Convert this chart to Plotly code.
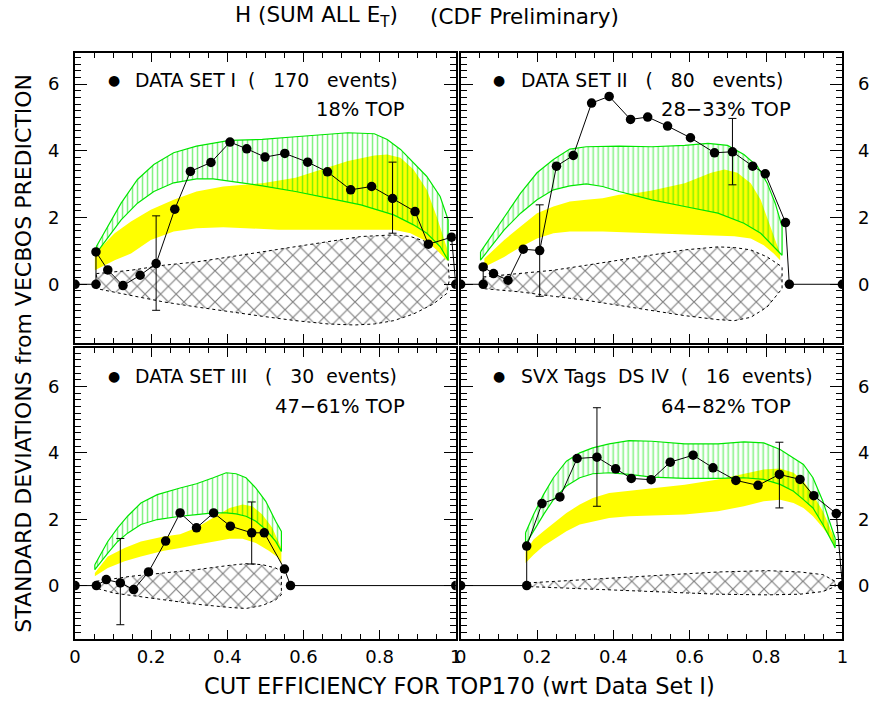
import plotly.graph_objects as go

W, H = 875, 702

# ---------------- DATA ----------------
# Panel I : DATA SET I (170 events)
ds1_x = [0.0, 0.055, 0.055, 0.086, 0.126, 0.171, 0.213, 0.262, 0.303, 0.357, 0.407, 0.451,
         0.499, 0.551, 0.611, 0.663, 0.724, 0.779, 0.834, 0.893, 0.928, 0.989, 1.0]
ds1_y = [0.0, 0.0, 0.97, 0.43, -0.04, 0.27, 0.62, 2.25, 3.38, 3.65, 4.26, 4.06,
         3.81, 3.92, 3.66, 3.37, 2.83, 2.93, 2.57, 2.18, 1.20, 1.41, 0.0]
ds1_err_x = [0.213, 0.834]
ds1_err_c = [0.62, 2.57]
ds1_err_hi = [2.05, 3.66]
ds1_err_lo = [-0.78, 1.53]
ds1_green_up_x = [0.056, 0.086, 0.121, 0.164, 0.207, 0.259, 0.319, 0.406, 0.492, 0.579, 0.665,
                  0.717, 0.786, 0.820, 0.855, 0.889, 0.924, 0.959, 0.980]
ds1_green_up_y = [1.13, 1.73, 2.43, 3.14, 3.59, 3.94, 4.14, 4.31, 4.34, 4.42, 4.49,
                  4.54, 4.51, 4.34, 4.04, 3.64, 3.23, 2.63, 1.93]
ds1_green_lo_x = [0.056, 0.086, 0.121, 0.164, 0.207, 0.259, 0.319, 0.363, 0.406, 0.492, 0.579,
                  0.665, 0.751, 0.837, 0.889, 0.924, 0.959, 0.980]
ds1_green_lo_y = [0.93, 1.38, 1.93, 2.43, 2.78, 3.04, 3.16, 3.16, 3.08, 2.95, 2.78,
                  2.58, 2.38, 2.08, 1.78, 1.53, 1.13, 0.72]
ds1_yel_up_x = [0.052, 0.104, 0.147, 0.199, 0.259, 0.319, 0.389, 0.449, 0.492, 0.579, 0.665,
                0.717, 0.786, 0.820, 0.855, 0.889, 0.924, 0.950, 0.976, 0.983]
ds1_yel_up_y = [0.92, 1.53, 1.88, 2.23, 2.53, 2.78, 2.93, 2.98, 3.03, 3.19, 3.49,
                3.69, 3.86, 3.89, 3.79, 3.44, 2.83, 2.03, 1.12, 0.72]
ds1_yel_lo_x = [0.052, 0.104, 0.147, 0.199, 0.259, 0.319, 0.389, 0.449, 0.535, 0.622, 0.708,
                0.794, 0.837, 0.881, 0.924, 0.950, 0.976]
ds1_yel_lo_y = [0.42, 0.72, 0.92, 1.33, 1.58, 1.68, 1.71, 1.68, 1.63, 1.61, 1.61,
                1.63, 1.63, 1.53, 1.28, 1.03, 0.72]
ds1_hat_up_x = [0.056, 0.147, 0.233, 0.319, 0.406, 0.492, 0.579, 0.665, 0.751, 0.837, 0.881,
                0.924, 0.959, 0.980]
ds1_hat_up_y = [0.32, 0.42, 0.57, 0.67, 0.82, 0.97, 1.12, 1.27, 1.43, 1.48, 1.43,
                1.27, 1.03, 0.72]
ds1_hat_lo_x = [0.056, 0.147, 0.233, 0.319, 0.406, 0.492, 0.579, 0.665, 0.734, 0.786, 0.837,
                0.889, 0.941, 0.976, 0.983]
ds1_hat_lo_y = [-0.13, -0.33, -0.53, -0.68, -0.83, -0.96, -1.09, -1.19, -1.22, -1.19, -1.09,
                -0.89, -0.59, -0.28, 0.12]

# Panel II : DATA SET II (80 events)
ds2_x = [0.0, 0.059, 0.059, 0.086, 0.124, 0.164, 0.207, 0.251, 0.295, 0.343, 0.389, 0.445,
         0.490, 0.542, 0.602, 0.665, 0.712, 0.765, 0.798, 0.851, 0.861, 1.0]
ds2_y = [0.0, 0.0, 0.52, 0.32, 0.12, 1.05, 1.01, 3.54, 3.86, 5.43, 5.63, 4.94,
         5.01, 4.74, 4.39, 3.94, 3.97, 3.54, 3.31, 1.85, 0.0, 0.0]
ds2_err_x = [0.207, 0.712]
ds2_err_c = [1.01, 3.97]
ds2_err_hi = [2.38, 4.97]
ds2_err_lo = [-0.36, 2.98]
ds2_green_up_x = [0.052, 0.079, 0.114, 0.157, 0.200, 0.243, 0.286, 0.329, 0.415, 0.501, 0.587,
                  0.648, 0.699, 0.742, 0.777, 0.803, 0.824, 0.842]
ds2_green_up_y = [0.97, 1.42, 2.03, 2.73, 3.34, 3.74, 4.05, 4.12, 4.14, 4.12, 4.16,
                  4.22, 4.16, 3.89, 3.54, 3.03, 2.43, 1.73]
ds2_green_lo_x = [0.052, 0.079, 0.114, 0.157, 0.200, 0.243, 0.286, 0.329, 0.372, 0.415, 0.501,
                  0.587, 0.674, 0.742, 0.786, 0.811, 0.842]
ds2_green_lo_y = [0.72, 1.12, 1.63, 2.13, 2.53, 2.83, 2.95, 3.01, 2.93, 2.78, 2.53,
                  2.33, 2.13, 1.83, 1.53, 1.22, 0.87]
ds2_yel_up_x = [0.062, 0.114, 0.157, 0.200, 0.243, 0.286, 0.329, 0.372, 0.415, 0.458, 0.501,
                0.587, 0.656, 0.691, 0.725, 0.760, 0.786, 0.811, 0.837]
ds2_yel_up_y = [0.77, 1.33, 1.73, 2.13, 2.33, 2.48, 2.53, 2.58, 2.68, 2.73, 2.81,
                3.03, 3.34, 3.44, 3.34, 3.03, 2.53, 1.73, 0.92]
ds2_yel_lo_x = [0.062, 0.114, 0.157, 0.200, 0.243, 0.286, 0.372, 0.458, 0.544, 0.630, 0.717,
                0.760, 0.794, 0.820, 0.837]
ds2_yel_lo_y = [0.52, 0.82, 1.12, 1.37, 1.53, 1.58, 1.58, 1.53, 1.50, 1.47, 1.44,
                1.37, 1.17, 0.92, 0.72]
ds2_hat_x = [0.059, 0.157, 0.243, 0.329, 0.415, 0.501, 0.587, 0.674, 0.717, 0.760, 0.803, 0.842]
ds2_hat_up_y = [0.22, 0.32, 0.42, 0.57, 0.72, 0.87, 1.03, 1.12, 1.10, 1.03, 0.82, 0.52]
ds2_hat_lo_y = [-0.13, -0.23, -0.36, -0.48, -0.63, -0.79, -0.94, -1.06, -1.09, -0.99, -0.68, -0.13]

# Panel III : DATA SET III (30 events)
ds3_x = [0.0, 0.056, 0.082, 0.119, 0.154, 0.193, 0.238, 0.276, 0.319, 0.364, 0.408, 0.464,
         0.497, 0.550, 0.566, 1.0]
ds3_y = [0.0, 0.0, 0.18, 0.08, -0.12, 0.41, 1.34, 2.19, 1.74, 2.19, 1.79, 1.59,
         1.59, 0.50, 0.0, 0.0]
ds3_err_x = [0.119, 0.464]
ds3_err_c = [0.08, 1.59]
ds3_err_hi = [1.42, 2.52]
ds3_err_lo = [-1.18, 0.65]
ds3_green_x = [0.052, 0.069, 0.086, 0.112, 0.138, 0.173, 0.216, 0.276, 0.319, 0.363, 0.397,
               0.423, 0.449, 0.475, 0.501, 0.527, 0.542]
ds3_green_up_y = [0.63, 0.98, 1.33, 1.74, 2.09, 2.49, 2.74, 2.94, 3.07, 3.25, 3.40,
                  3.37, 3.25, 2.94, 2.54, 1.94, 1.63]
ds3_green_lo_y = [0.48, 0.73, 0.98, 1.33, 1.58, 1.84, 1.99, 2.09, 2.14, 2.19, 2.19,
                  2.16, 2.09, 1.94, 1.69, 1.33, 1.03]
ds3_yel_up_x = [0.052, 0.086, 0.130, 0.173, 0.233, 0.276, 0.319, 0.363, 0.406, 0.440, 0.466,
                0.492, 0.518, 0.542]
ds3_yel_up_y = [0.38, 0.88, 1.13, 1.33, 1.48, 1.55, 1.74, 2.04, 2.34, 2.44, 2.39,
                2.14, 1.74, 1.13]
ds3_yel_lo_x = [0.052, 0.086, 0.130, 0.173, 0.233, 0.276, 0.319, 0.363, 0.406, 0.440, 0.475,
                0.509, 0.535, 0.542]
ds3_yel_lo_y = [0.28, 0.53, 0.73, 0.88, 1.05, 1.13, 1.23, 1.33, 1.41, 1.41, 1.28,
                1.05, 0.83, 0.63]
ds3_hat_up_x = [0.056, 0.147, 0.233, 0.319, 0.406, 0.449, 0.492, 0.527, 0.542]
ds3_hat_up_y = [0.13, 0.28, 0.38, 0.48, 0.61, 0.66, 0.63, 0.53, 0.43]
ds3_hat_lo_x = [0.056, 0.104, 0.147, 0.233, 0.319, 0.406, 0.449, 0.492, 0.527, 0.542]
ds3_hat_lo_y = [-0.08, -0.23, -0.30, -0.43, -0.56, -0.66, -0.69, -0.60, -0.43, -0.28]

# Panel IV : SVX Tags DS IV (16 events)
ds4_x = [0.0, 0.173, 0.173, 0.213, 0.260, 0.305, 0.357, 0.406, 0.447, 0.499, 0.549, 0.609,
         0.661, 0.721, 0.779, 0.835, 0.889, 0.925, 0.984, 1.0]
ds4_y = [0.0, 0.0, 1.19, 2.47, 2.67, 3.83, 3.87, 3.52, 3.23, 3.19, 3.72, 3.93,
         3.55, 3.17, 3.02, 3.35, 3.20, 2.71, 2.17, 0.0]
ds4_err_x = [0.357, 0.835]
ds4_err_c = [3.87, 3.35]
ds4_err_hi = [5.36, 4.32]
ds4_err_lo = [2.39, 2.34]
ds4_band_x = [0.170, 0.191, 0.217, 0.243, 0.277, 0.312, 0.346, 0.389, 0.441, 0.501, 0.587,
              0.674, 0.742, 0.794, 0.837, 0.872, 0.898, 0.923, 0.949, 0.975, 0.981]
ds4_green_up_y = [1.59, 2.14, 2.74, 3.25, 3.75, 4.00, 4.15, 4.27, 4.37, 4.35, 4.27,
                  4.27, 4.33, 4.30, 4.10, 3.85, 3.65, 3.25, 2.54, 1.63, 1.43]
ds4_green_lo_y = [1.24, 1.63, 2.14, 2.59, 3.00, 3.25, 3.37, 3.40, 3.35, 3.27, 3.23,
                  3.23, 3.25, 3.20, 3.05, 2.84, 2.59, 2.34, 1.84, 1.28, 1.13]
ds4_yel_up_y = [1.03, 1.39, 1.64, 1.89, 2.19, 2.44, 2.64, 2.79, 2.86, 2.92, 3.04,
                3.20, 3.37, 3.50, 3.53, 3.40, 3.15, 2.74, 2.24, 1.54, 1.28]
ds4_yel_lo_y = [0.68, 0.93, 1.19, 1.39, 1.64, 1.84, 1.94, 2.04, 2.09, 2.11, 2.14,
                2.24, 2.39, 2.54, 2.59, 2.49, 2.34, 2.09, 1.74, 1.33, 1.13]
ds4_hat_x = [0.176, 0.329, 0.501, 0.674, 0.803, 0.889, 0.949, 0.981]
ds4_hat_up_y = [0.08, 0.18, 0.28, 0.41, 0.45, 0.41, 0.33, 0.13]
ds4_hat_lo_y = [-0.03, -0.10, -0.18, -0.26, -0.28, -0.26, -0.18, -0.03]

panel_labels = ["DATA SET I\u00a0\u00a0(\u00a0\u00a0\u00a0170\u00a0\u00a0\u00a0events)",
                "DATA SET II\u00a0\u00a0\u00a0(\u00a0\u00a0\u00a080\u00a0\u00a0\u00a0events)",
                "DATA SET III\u00a0\u00a0\u00a0(\u00a0\u00a0\u00a030\u00a0\u00a0events)",
                "SVX Tags\u00a0\u00a0DS IV\u00a0\u00a0(\u00a0\u00a0\u00a016\u00a0\u00a0events)"]
panel_tops = ["18% TOP", "28\u221233% TOP", "47\u221261% TOP", "64\u221282% TOP"]

# ---------------- STYLE ----------------
FONT = "DejaVu Sans, Liberation Sans, sans-serif"
GREEN = "rgb(0,230,0)"
YELLOW = "#ffff00"

# pixel geometry of panels
px_cols = [(70, 456), (461, 848)]
py_rows = [(53, 343), (348, 639)]
yr_rows = [[-1.76, 6.93], [-1.61, 7.16]]


def band(xu, yu, xl, yl):
    return list(xu) + list(xl)[::-1] + [xu[0]], list(yu) + list(yl)[::-1] + [yu[0]]


panels = [
    dict(x=ds1_x, y=ds1_y, ex=ds1_err_x, ec=ds1_err_c, eh=ds1_err_hi, el=ds1_err_lo,
         g=band(ds1_green_up_x, ds1_green_up_y, ds1_green_lo_x, ds1_green_lo_y),
         yl=band(ds1_yel_up_x, ds1_yel_up_y, ds1_yel_lo_x, ds1_yel_lo_y),
         h=band(ds1_hat_up_x, ds1_hat_up_y, ds1_hat_lo_x, ds1_hat_lo_y)),
    dict(x=ds2_x, y=ds2_y, ex=ds2_err_x, ec=ds2_err_c, eh=ds2_err_hi, el=ds2_err_lo,
         g=band(ds2_green_up_x, ds2_green_up_y, ds2_green_lo_x, ds2_green_lo_y),
         yl=band(ds2_yel_up_x, ds2_yel_up_y, ds2_yel_lo_x, ds2_yel_lo_y),
         h=band(ds2_hat_x, ds2_hat_up_y, ds2_hat_x, ds2_hat_lo_y)),
    dict(x=ds3_x, y=ds3_y, ex=ds3_err_x, ec=ds3_err_c, eh=ds3_err_hi, el=ds3_err_lo,
         g=band(ds3_green_x, ds3_green_up_y, ds3_green_x, ds3_green_lo_y),
         yl=band(ds3_yel_up_x, ds3_yel_up_y, ds3_yel_lo_x, ds3_yel_lo_y),
         h=band(ds3_hat_up_x, ds3_hat_up_y, ds3_hat_lo_x, ds3_hat_lo_y)),
    dict(x=ds4_x, y=ds4_y, ex=ds4_err_x, ec=ds4_err_c, eh=ds4_err_hi, el=ds4_err_lo,
         g=band(ds4_band_x, ds4_green_up_y, ds4_band_x, ds4_green_lo_y),
         yl=band(ds4_band_x, ds4_yel_up_y, ds4_band_x, ds4_yel_lo_y),
         h=band(ds4_hat_x, ds4_hat_up_y, ds4_hat_x, ds4_hat_lo_y)),
]

fig = go.Figure()
layout = dict(width=W, height=H, margin=dict(l=0, r=0, t=0, b=0),
              paper_bgcolor="white", plot_bgcolor="white", showlegend=False,
              font=dict(family=FONT, color="black", size=18))
annotations = []

for i, p in enumerate(panels):
    row, col = divmod(i, 2)
    n = "" if i == 0 else str(i + 1)
    xa, ya = "x" + n, "y" + n
    (x0, x1), (y0, y1) = px_cols[col], py_rows[row]
    # hatched band
    fig.add_trace(go.Scatter(x=p["h"][0], y=p["h"][1], xaxis=xa, yaxis=ya, mode="lines",
                             fill="toself", fillcolor="rgba(0,0,0,0)",
                             fillpattern=dict(shape="x", fgcolor="black", bgcolor="rgba(0,0,0,0)",
                                              size=11, solidity=0.2),
                             line=dict(color="black", width=1, dash="dot"), hoverinfo="skip"))
    # yellow band
    fig.add_trace(go.Scatter(x=p["yl"][0], y=p["yl"][1], xaxis=xa, yaxis=ya, mode="lines",
                             fill="toself", fillcolor=YELLOW, line=dict(width=0, color=YELLOW),
                             hoverinfo="skip"))
    # green band
    fig.add_trace(go.Scatter(x=p["g"][0], y=p["g"][1], xaxis=xa, yaxis=ya, mode="lines",
                             fill="toself", fillcolor="rgba(0,0,0,0)",
                             fillpattern=dict(shape="|", fgcolor=GREEN, bgcolor="rgba(0,0,0,0)",
                                              size=5, solidity=0.3),
                             line=dict(color=GREEN, width=1.2), hoverinfo="skip"))
    # data
    fig.add_trace(go.Scatter(x=p["x"], y=p["y"], xaxis=xa, yaxis=ya, mode="lines+markers",
                             line=dict(color="black", width=1),
                             marker=dict(color="black", size=9.5)))
    fig.add_trace(go.Scatter(x=p["ex"], y=p["ec"], xaxis=xa, yaxis=ya, mode="markers",
                             marker=dict(size=1, color="rgba(0,0,0,0)"),
                             error_y=dict(type="data", symmetric=False,
                                          array=[h - c for h, c in zip(p["eh"], p["ec"])],
                                          arrayminus=[c - l for l, c in zip(p["el"], p["ec"])],
                                          color="black", thickness=1, width=4)))
    # axes
    layout["xaxis" + n] = dict(domain=[x0 / W, x1 / W], range=[0, 1], anchor=ya,
                               showline=True, linecolor="black", linewidth=2, mirror="allticks",
                               ticks="inside", ticklen=9, tickwidth=1, tickcolor="black",
                               tickvals=[0, 0.2, 0.4, 0.6, 0.8, 1.0],
                               ticktext=["0", "0.2", "0.4", "0.6", "0.8", "1"],
                               showticklabels=(row == 1), tickfont=dict(size=18),
                               minor=dict(ticks="inside", ticklen=5, dtick=0.05, tickcolor="black"),
                               showgrid=False, zeroline=False, fixedrange=True)
    layout["yaxis" + n] = dict(domain=[1 - y1 / H, 1 - y0 / H], range=yr_rows[row], anchor=xa,
                               side="left" if col == 0 else "right",
                               showline=True, linecolor="black", linewidth=2, mirror="allticks",
                               ticks="inside", ticklen=12, tickwidth=1, tickcolor="black",
                               tickvals=[0, 2, 4, 6],
                               ticktext=["0", "2", "4", "6"],
                               tickfont=dict(size=18), ticklabelstandoff=10,
                               minor=dict(ticks="inside", ticklen=6, dtick=0.2, tickcolor="black"),
                               showgrid=False, zeroline=False, fixedrange=True)
    # panel texts
    lx = 109 if col == 0 else 500
    ly = 80 if row == 0 else 376
    annotations.append(dict(x=lx / W, y=1 - ly / H, xref="paper", yref="paper", text="\u25cf",
                            showarrow=False, xanchor="center", yanchor="middle", font=dict(size=14)))
    annotations.append(dict(x=(lx + 20) / W, y=1 - ly / H, xref="paper", yref="paper",
                            text=panel_labels[i], showarrow=False, xanchor="left", yanchor="middle",
                            font=dict(size=18.8)))
    tx = 407 if col == 0 else 798
    annotations.append(dict(x=tx / W, y=1 - (ly + 30) / H, xref="paper", yref="paper",
                            text=panel_tops[i], showarrow=False, xanchor="right", yanchor="middle",
                            font=dict(size=19.5)))

annotations += [
    dict(x=230 / W, y=1 - 17 / H, xref="paper", yref="paper", text="H (SUM ALL E<sub>T</sub>)",
         showarrow=False, xanchor="left", yanchor="middle", font=dict(size=21.5)),
    dict(x=428 / W, y=1 - 17 / H, xref="paper", yref="paper", text="(CDF Preliminary)",
         showarrow=False, xanchor="left", yanchor="middle", font=dict(size=21.5)),
    dict(x=460 / W, y=1 - 686 / H, xref="paper", yref="paper",
         text="CUT EFFICIENCY FOR TOP170 (wrt Data Set I)",
         showarrow=False, xanchor="center", yanchor="middle", font=dict(size=22.5)),
    dict(x=18 / W, y=1 - 353 / H, xref="paper", yref="paper",
         text="STANDARD DEVIATIONS from VECBOS PREDICTION", textangle=-90,
         showarrow=False, xanchor="center", yanchor="middle", font=dict(size=22)),
]
layout["annotations"] = annotations
fig.update_layout(**layout)
fig.write_html("out.html")
